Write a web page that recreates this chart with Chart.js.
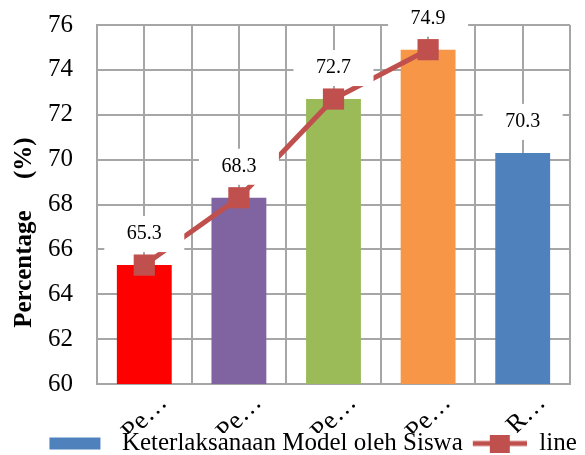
<!DOCTYPE html>
<html>
<head>
<meta charset="utf-8">
<script src="https://cdn.jsdelivr.net/npm/chart.js@4"></script>
<style>
  html, body { margin: 0; padding: 0; background: #fff; }
  #wrap { width: 585px; height: 455px; }
</style>
</head>
<body>
<div id="wrap"><canvas id="chart" width="585" height="455"></canvas></div>
<script>
Chart.defaults.animation = false;
Chart.defaults.color = '#000';

const SERIF = "'Liberation Serif', 'Times New Roman', serif";
Chart.defaults.font.family = SERIF;

// --- Data ---
const categories = ['Pe…', 'Pe…', 'Pe…', 'Pe…', 'R…'];
const barValues = [65.3, 68.3, 72.7, 74.9, 70.3];
const lineValues = [65.3, 68.3, 72.7, 74.9, null];
const barColors = ['#FF0000', '#8064A2', '#9BBB59', '#F79646', '#4F81BD'];
const yTicks = [60, 62, 64, 66, 68, 70, 72, 74, 76];

const GRID = '#A6A6A6';
const LINE_RED = '#C0504D';

// --- Legend icons (bar swatch, line with square marker) ---
function legendIcon(draw) {
  const c = document.createElement('canvas');
  c.width = 66;
  c.height = 18;
  draw(c.getContext('2d'));
  return c;
}
const barIcon = legendIcon(ctx => {
  ctx.fillStyle = '#4F81BD';
  ctx.fillRect(6, 3, 51, 12);
});
const lineIcon = legendIcon(ctx => {
  ctx.strokeStyle = LINE_RED;
  ctx.lineWidth = 5;
  ctx.beginPath();
  ctx.moveTo(12, 9);
  ctx.lineTo(66, 9);
  ctx.stroke();
  ctx.fillStyle = LINE_RED;
  ctx.fillRect(29, 0, 20, 18);
});

// --- Value labels with white boxes above the bars ---
const barLabels = {
  id: 'barLabels',
  afterDraw(chart) {
    const meta = chart.getDatasetMeta(1);
    const ctx = chart.ctx;
    ctx.save();
    ctx.font = "20px " + SERIF;
    ctx.textAlign = 'center';
    ctx.textBaseline = 'middle';
    meta.data.forEach((bar, i) => {
      const x = bar.x;
      const y = bar.y - 31;
      ctx.fillStyle = '#fff';
      ctx.fillRect(x - 40, y - 18, 80, 36);
      ctx.fillStyle = '#000';
      ctx.fillText(barValues[i].toFixed(1), x, y);
    });
    ctx.restore();
  }
};

const ctx = document.getElementById('chart').getContext('2d');
new Chart(ctx, {
  type: 'bar',
  data: {
    labels: categories,
    datasets: [
      {
        type: 'line',
        label: 'line',
        data: lineValues,
        borderColor: LINE_RED,
        backgroundColor: LINE_RED,
        borderWidth: 5,
        pointStyle: 'rect',
        pointRadius: 15,
        pointBorderWidth: 0,
        tension: 0
      },
      {
        label: 'Keterlaksanaan Model oleh Siswa',
        data: barValues,
        backgroundColor: barColors,
        barPercentage: 0.58,
        categoryPercentage: 1
      }
    ]
  },
  options: {
    responsive: false,
    layout: { padding: { top: 25, right: 4, bottom: -11, left: 0 } },
    scales: {
      x: {
        grid: { color: GRID, lineWidth: 2, offset: true, drawTicks: false },
        border: { color: GRID, width: 2 },
        ticks: {
          font: { family: SERIF, size: 26 },
          minRotation: 45,
          maxRotation: 45,
          labelOffset: 19,
          padding: 4,
          autoSkip: false
        },
        afterFit: s => { s.height = 49; }
      },
      x2: {
        type: 'category',
        position: 'top',
        offset: true,
        grid: { color: GRID, lineWidth: 2, offset: false, drawTicks: false },
        border: { display: false },
        ticks: { display: false },
        afterFit: s => { s.height = 0; }
      },
      y: {
        min: yTicks[0],
        max: yTicks[yTicks.length - 1],
        ticks: { stepSize: yTicks[1] - yTicks[0], font: { family: SERIF, size: 25 }, padding: 0 },
        grid: { color: GRID, lineWidth: 2, drawTicks: true, tickLength: 24, tickColor: 'rgba(0,0,0,0)' },
        border: { color: GRID, width: 2 },
        title: {
          display: true,
          text: 'Percentage     (%)         ',
          font: { family: SERIF, size: 25, weight: 'bold' },
          padding: { top: 10, bottom: 0 }
        },
        afterFit: s => { s.width = 97; }
      }
    },
    plugins: {
      tooltip: { enabled: false },
      legend: {
        position: 'bottom',
        align: 'end',
        labels: {
          usePointStyle: true,
          pointStyleWidth: 66,
          boxHeight: 18,
          padding: -2,
          font: { family: SERIF, size: 25 },
          generateLabels: chart => [
            { text: chart.data.datasets[1].label, pointStyle: barIcon, datasetIndex: 1, lineWidth: 0 },
            { text: chart.data.datasets[0].label + ' ', pointStyle: lineIcon, datasetIndex: 0, lineWidth: 0 }
          ]
        }
      }
    }
  },
  plugins: [barLabels]
});
</script>
</body>
</html>
